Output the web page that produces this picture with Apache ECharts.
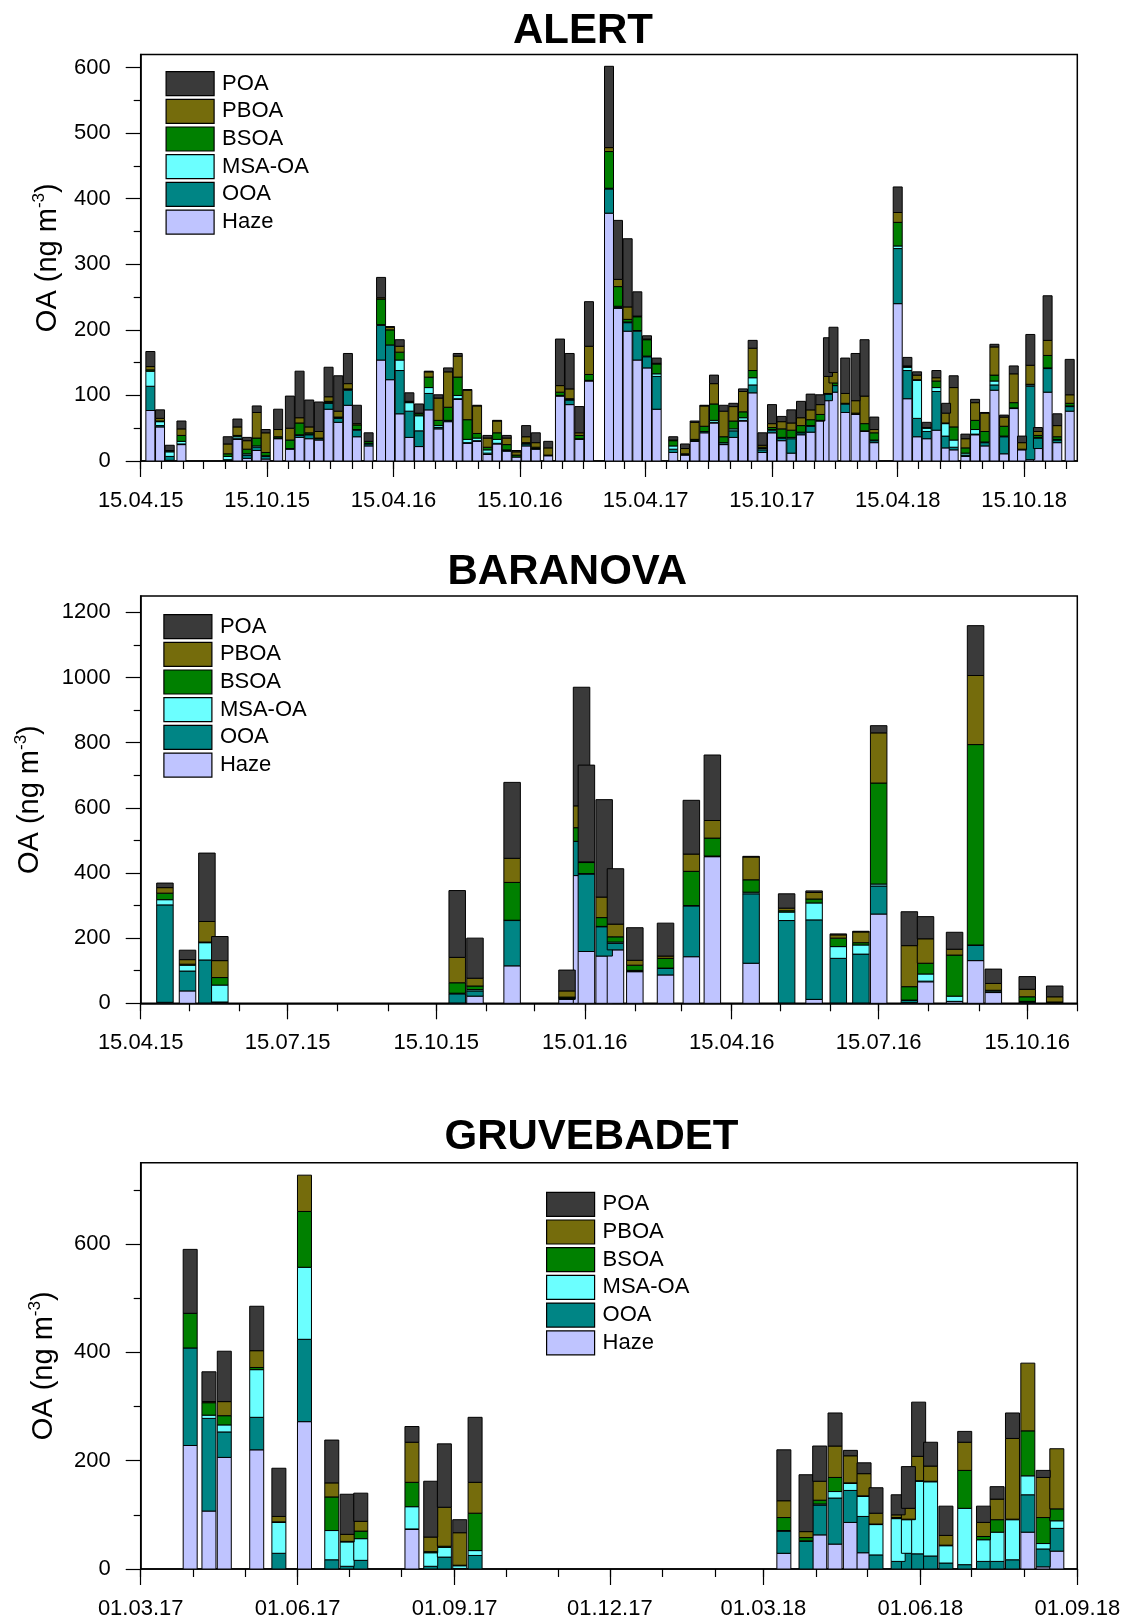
<!DOCTYPE html>
<html>
<head>
<meta charset="utf-8">
<script src="https://cdn.jsdelivr.net/npm/echarts@6/dist/echarts.min.js"></script>
<style>
  html, body { margin: 0; padding: 0; background: #fff; }
  #chart { width: 1130px; height: 1621px; }
</style>
</head>
<body>
<div id="chart"></div>
<script>
// ---------------- ALERT (sample dates and OA components, ng m-3) ----------------
const alertDates = ['2015-04-29','2015-05-13','2015-05-27','2015-06-13','2015-08-19','2015-09-02','2015-09-16','2015-09-30','2015-10-13','2015-10-31','2015-11-17','2015-12-01','2015-12-15','2015-12-29',
  '2016-01-12','2016-01-26','2016-02-09','2016-02-22','2016-03-10','2016-03-28','2016-04-10','2016-04-24','2016-05-08','2016-05-22','2016-06-05','2016-06-19','2016-07-03','2016-07-17','2016-07-31','2016-08-14','2016-08-29','2016-09-12','2016-09-26','2016-10-10','2016-10-24','2016-11-07','2016-11-25','2016-12-12','2016-12-26',
  '2017-01-09','2017-01-23','2017-02-21','2017-03-06','2017-03-20','2017-04-03','2017-04-17','2017-05-01','2017-05-25','2017-06-11','2017-06-25','2017-07-09','2017-07-23','2017-08-06','2017-08-20','2017-09-03','2017-09-17','2017-10-01','2017-10-15','2017-10-29','2017-11-12','2017-11-26','2017-12-10','2017-12-24',
  '2018-01-04','2018-01-12','2018-01-29','2018-02-13','2018-02-26','2018-03-12','2018-04-15','2018-04-29','2018-05-13','2018-05-27','2018-06-10','2018-06-24','2018-07-05','2018-07-22','2018-08-05','2018-08-19','2018-09-02','2018-09-16','2018-09-30','2018-10-12','2018-10-24','2018-11-04','2018-11-18','2018-12-02','2018-12-20'];
const alertHaze = [77,52,1,25,1,33,4,16,3,34,18,36,34,32, 79,59,85,37,23,154,124,72,36,22,78,49,60,94,27,30,10,26,15,6,23,18,8,99,86, 33,122,378,233,198,154,142,79,13,9,30,43,58,25,36,61,104,13,43,31,12,40,44,61, 92,105,74,71,45,28,240,95,37,34,47,20,17,7,40,23,108,11,80,17,2,19,105,28,76];
const alertOOA  = [37,2,6,1,1,1,5,5,4,1,1,3,6,2, 9,6,23,10,3,53,53,66,40,24,25,2,2,1,1,1,2,1,1,0,3,1,0,1,7, 1,1,37,1,13,44,17,50,5,1,1,2,1,1,10,1,12,4,4,4,22,3,9,1, 10,10,13,1,1,3,84,43,28,11,59,18,4,2,1,5,8,26,1,0,112,16,36,4,7];
const alertMSA  = [23,6,7,4,5,3,2,2,1,0,0,1,1,0, 1,1,1,1,1,1,0,16,13,23,9,3,0,5,5,4,5,6,1,0,1,0,0,0,1, 0,0,1,2,1,1,1,4,5,0,0,0,3,2,3,4,11,2,1,1,2,1,1,0, 0,0,0,0,0,1,4,5,58,5,6,19,11,3,7,1,6,1,0,0,2,1,1,1,1];
const alertBSOA = [2,1,1,9,4,2,7,12,5,2,13,18,2,1, 2,1,1,7,3,39,23,12,1,3,16,8,20,28,30,7,4,10,8,3,1,2,1,5,1, 5,9,56,30,4,21,25,15,8,1,2,8,25,9,12,9,11,2,3,13,11,10,9,9, 1,4,1,1,11,11,36,1,1,1,10,1,20,8,14,16,9,15,8,1,1,3,19,4,4];
const alertPBOA = [5,4,1,10,15,13,13,39,30,11,18,8,9,10, 7,9,8,2,0,2,4,9,1,1,8,34,54,32,45,42,14,18,10,5,9,7,11,10,15, 4,43,6,11,19,1,1,1,1,8,26,31,31,39,22,31,34,3,6,11,11,12,15,15, 26,16,15,19,42,5,15,1,7,0,5,15,60,14,27,28,43,14,44,10,29,6,23,17,13];
const alertPOA  = [23,13,8,12,11,12,5,10,5,31,49,71,41,45, 45,54,46,28,13,31,1,10,13,14,1,5,6,4,1,1,4,1,4,2,17,15,10,71,54, 40,68,124,90,104,37,5,8,5,7,2,1,13,9,5,4,12,19,29,8,20,25,24,15, 59,69,54,72,86,19,39,13,5,8,11,15,18,7,5,1,4,3,12,10,47,6,68,18,54];
const alertTickLabels = ['2015-04-15','2015-10-15','2016-04-15','2016-10-15','2017-04-15','2017-10-15','2018-04-15','2018-10-15'];
const alertYTicks = [0,100,200,300,400,500,600];

// ---------------- BARANOVA ----------------
const baranovaDates = ['2015-04-30','2015-05-14','2015-05-26','2015-06-03','2015-10-28','2015-11-08','2015-12-01','2016-01-04','2016-01-13','2016-01-16','2016-01-27','2016-02-03','2016-02-15','2016-03-05','2016-03-21','2016-04-03','2016-04-27','2016-05-19','2016-06-05','2016-06-20','2016-07-04','2016-07-15','2016-08-03','2016-08-13','2016-08-31','2016-09-13','2016-09-24','2016-10-15','2016-11-01'];
const baranovaHaze = [3,38,1,2,1,22,115,12,392,159,145,164,97,87,143,450,123,1,12,1,1,274,2,66,5,131,33,2,1];
const baranovaOOA  = [299,61,132,2,28,16,139,3,105,238,90,20,2,20,156,1,213,253,244,137,150,86,7,2,1,47,2,3,1];
const baranovaMSA  = [16,18,53,52,2,4,1,1,0,1,1,4,2,1,1,1,5,26,52,36,28,6,1,22,16,1,3,1,0];
const baranovaBSOA = [20,3,2,23,32,11,116,3,42,34,27,16,16,30,105,55,38,4,12,26,7,310,41,33,126,615,2,14,2];
const baranovaPBOA = [17,14,63,52,78,24,74,19,67,2,63,39,15,7,53,54,70,8,20,10,33,154,126,75,18,212,21,23,16];
const baranovaPOA  = [14,29,210,74,205,123,233,64,364,297,299,170,100,101,165,201,2,44,5,3,2,22,104,68,52,153,44,39,33];
const baranovaTickLabels = ['2015-04-15','2015-07-15','2015-10-15','2016-01-15','2016-04-15','2016-07-15','2016-10-15'];
const baranovaYTicks = [0,200,400,600,800,1000,1200];

// ---------------- GRUVEBADET ----------------
const gruvebadetDates = ['2017-03-30','2017-04-10','2017-04-19','2017-05-08','2017-05-21','2017-06-05','2017-06-21','2017-06-30','2017-07-08','2017-08-07','2017-08-18','2017-08-26','2017-09-04','2017-09-13',
  '2018-03-13','2018-03-26','2018-04-03','2018-04-12','2018-04-21','2018-04-29','2018-05-06','2018-05-19','2018-05-25','2018-05-31','2018-06-07','2018-06-16','2018-06-27','2018-07-08','2018-07-16','2018-07-25','2018-08-03','2018-08-12','2018-08-20'];
const gruvebadetHaze = [228,107,206,220,0,272,0,0,0,73,0,0,0,0, 29,0,63,46,86,30,0,0,0,0,0,0,0,0,0,0,68,4,33];
const gruvebadetOOA  = [180,171,47,60,29,152,17,5,16,1,5,22,1,25, 41,51,55,85,59,67,26,14,29,28,24,11,8,14,14,17,69,33,42];
const gruvebadetMSA  = [0,6,13,88,57,133,54,45,40,41,25,18,5,9, 1,1,2,12,13,37,56,79,62,134,137,32,104,40,54,74,35,10,14];
const gruvebadetBSOA = [64,23,17,4,1,103,62,1,14,45,2,2,1,69, 24,6,7,26,1,1,1,2,1,1,1,1,70,6,23,1,83,48,22];
const gruvebadetPBOA = [0,2,26,31,10,67,26,13,18,74,27,72,60,57, 31,11,35,58,50,41,20,5,20,45,28,18,52,26,38,149,125,74,111];
const gruvebadetPOA  = [118,55,93,82,89,0,79,74,52,29,103,117,24,120, 94,105,65,61,10,20,47,37,77,100,44,54,20,30,23,47,0,13,0];
const gruvebadetTickLabels = ['2017-03-01','2017-06-01','2017-09-01','2017-12-01','2018-03-01','2018-06-01','2018-09-01'];
const gruvebadetYTicks = [0,200,400,600];

// ---------------- shared definitions ----------------
const componentNames = ['Haze', 'OOA', 'MSA-OA', 'BSOA', 'PBOA', 'POA'];   // stacking order, bottom to top
const legendNames = ['POA', 'PBOA', 'BSOA', 'MSA-OA', 'OOA', 'Haze'];
const componentColors = {
  'Haze': '#bfc4ff', 'OOA': '#008585', 'MSA-OA': '#6bffff',
  'BSOA': '#008000', 'PBOA': '#756c0c', 'POA': '#3a3a3a'
};

const FONT = 'Liberation Sans, Arial, Helvetica, sans-serif';

function pad2(n) { return (n < 10 ? '0' : '') + n; }
// date string -> UTC milliseconds (x coordinate of the date axis)
function ts(s) {
  const [y, m, d] = s.split('-').map(Number);
  return Date.UTC(y, m - 1, d);
}
function dateLabel(v) {
  const d = new Date(v);
  return pad2(d.getUTCDate()) + '.' + pad2(d.getUTCMonth() + 1) + '.' + String(d.getUTCFullYear()).slice(2);
}
// monthly minor tick positions on a given day of month, between two dates
function monthlyTicks(start, end, day) {
  const out = [];
  let [y, m] = start.split('-').map(Number);
  const endTime = ts(end);
  while (true) {
    const t = Date.UTC(y, m - 1, day);
    if (t > endTime) break;
    out.push(t);
    m++; if (m > 12) { m = 1; y++; }
  }
  return out;
}

const panels = [
  {
    title: 'ALERT', titleLeft: 513, titleTop: 10,
    top: 54.5, height: 406.5, xMin: '2015-04-15', xMax: '2018-12-31', tickDay: 15,
    yMax: 620, yInterval: 100, yTicks: alertYTicks, tickLabels: alertTickLabels,
    nameGap: 76, barWidth: 9, legendLeft: 165.5, legendTop: 71,
    dates: alertDates,
    values: { 'Haze': alertHaze, 'OOA': alertOOA, 'MSA-OA': alertMSA, 'BSOA': alertBSOA, 'PBOA': alertPBOA, 'POA': alertPOA }
  },
  {
    title: 'BARANOVA', titleLeft: 447.5, titleTop: 551,
    top: 596, height: 407.3, xMin: '2015-04-15', xMax: '2016-11-15', tickDay: 15,
    yMax: 1250, yInterval: 200, yTicks: baranovaYTicks, tickLabels: baranovaTickLabels,
    nameGap: 94, barWidth: 16.5, legendLeft: 163.3, legendTop: 614,
    dates: baranovaDates,
    values: { 'Haze': baranovaHaze, 'OOA': baranovaOOA, 'MSA-OA': baranovaMSA, 'BSOA': baranovaBSOA, 'PBOA': baranovaPBOA, 'POA': baranovaPOA }
  },
  {
    title: 'GRUVEBADET', titleLeft: 444.5, titleTop: 1116,
    top: 1162.7, height: 406.3, xMin: '2017-03-01', xMax: '2018-09-01', tickDay: 1,
    yMax: 750, yInterval: 200, yTicks: gruvebadetYTicks, tickLabels: gruvebadetTickLabels,
    nameGap: 80, barWidth: 14, legendLeft: 546, legendTop: 1191.7,
    dates: gruvebadetDates,
    values: { 'Haze': gruvebadetHaze, 'OOA': gruvebadetOOA, 'MSA-OA': gruvebadetMSA, 'BSOA': gruvebadetBSOA, 'PBOA': gruvebadetPBOA, 'POA': gruvebadetPOA }
  }
];

const axisLineStyle = { color: '#000', width: 1.5 };
const tickLineStyle = { color: '#000', width: 1.2 };

// one stacked column segment: [date, lower edge, upper edge] mapped through the axes
function segmentRenderer(barWidth, color) {
  return function (params, api) {
    const lo = api.value(1), hi = api.value(2);
    if (!(hi > lo)) return null;
    const p0 = api.coord([api.value(0), lo]);
    const p1 = api.coord([api.value(0), hi]);
    return {
      type: 'rect',
      shape: { x: p0[0] - barWidth / 2, y: p1[1], width: barWidth, height: p0[1] - p1[1] },
      style: { fill: color, stroke: '#000', lineWidth: 1 }
    };
  };
}

const option = {
  backgroundColor: '#fff',
  animation: false,
  title: [], grid: [], xAxis: [], yAxis: [], legend: [], series: []
};

panels.forEach((p, i) => {
  const xMin = ts(p.xMin), xMax = ts(p.xMax);
  const majors = p.tickLabels.map(ts);
  option.title.push({
    text: p.title, left: p.titleLeft, top: p.titleTop, padding: 0,
    textStyle: { fontFamily: FONT, fontSize: 42, fontWeight: 'bold', color: '#000' }
  });
  option.grid.push({
    left: 140.7, width: 936.6, top: p.top, height: p.height,
    show: true, borderColor: '#000', borderWidth: 1.5, backgroundColor: 'transparent'
  });
  // main date axis: major ticks + date labels
  option.xAxis.push({
    type: 'value', gridIndex: i, position: 'bottom', min: xMin, max: xMax, scale: true,
    axisLine: { show: true, onZero: false, lineStyle: axisLineStyle },
    axisTick: { show: true, customValues: majors, length: 16, lineStyle: tickLineStyle },
    axisLabel: { customValues: majors, formatter: dateLabel, margin: 29,
                 fontFamily: FONT, fontSize: 22, color: '#000' },
    splitLine: { show: false }
  });
  // companion axis carrying the monthly minor ticks
  option.xAxis.push({
    type: 'value', gridIndex: i, position: 'bottom', min: xMin, max: xMax, scale: true,
    axisLine: { show: false, onZero: false },
    axisTick: { show: true, customValues: monthlyTicks(p.xMin, p.xMax, p.tickDay), length: 8, lineStyle: tickLineStyle },
    axisLabel: { show: false },
    splitLine: { show: false }
  });
  option.yAxis.push({
    type: 'value', gridIndex: i, position: 'left', min: 0, max: p.yMax, interval: p.yInterval,
    axisLine: { show: true, lineStyle: axisLineStyle },
    axisTick: { show: true, customValues: p.yTicks, length: 15, lineStyle: tickLineStyle },
    minorTick: { show: true, splitNumber: 2, length: 7, lineStyle: tickLineStyle },
    axisLabel: { customValues: p.yTicks, formatter: v => String(v), margin: 30,
                 fontFamily: FONT, fontSize: 22, color: '#000' },
    splitLine: { show: false }, minorSplitLine: { show: false },
    name: '{a|OA (ng m}{b|-3}{a|)}', nameLocation: 'middle', nameRotate: 90, nameGap: p.nameGap,
    nameTextStyle: {
      rich: {
        a: { fontFamily: FONT, fontSize: 29, color: '#000', lineHeight: 34 },
        b: { fontFamily: FONT, fontSize: 17, color: '#000', lineHeight: 34, verticalAlign: 'top', padding: [0, 0, 12, 0] }
      }
    }
  });
  option.legend.push({
    orient: 'vertical', left: p.legendLeft, top: p.legendTop, padding: 0,
    itemWidth: 48, itemHeight: 24, itemGap: 2.5, icon: 'rect', selectedMode: false,
    data: legendNames,
    itemStyle: { borderColor: '#000', borderWidth: 1.2 },
    textStyle: { fontFamily: FONT, fontSize: 22, color: '#000', padding: [0, 0, 0, 3] }
  });
  // cumulative stacking of the components, bottom (Haze) to top (POA)
  const running = p.dates.map(() => 0);
  componentNames.forEach(name => {
    const vals = p.values[name];
    const data = p.dates.map((d, k) => {
      const lo = running[k];
      running[k] = lo + vals[k];
      return [ts(d), lo, running[k]];
    });
    option.series.push({
      type: 'custom', name: name, coordinateSystem: 'cartesian2d',
      xAxisIndex: 2 * i, yAxisIndex: i,
      encode: { x: 0, y: [1, 2] },
      renderItem: segmentRenderer(p.barWidth, componentColors[name]),
      itemStyle: { color: componentColors[name], borderColor: '#000', borderWidth: 1 },
      clip: true, silent: true,
      data: data
    });
  });
});

const chart = echarts.init(document.getElementById('chart'), null, { renderer: 'canvas' });
chart.setOption(option);
</script>
</body>
</html>
